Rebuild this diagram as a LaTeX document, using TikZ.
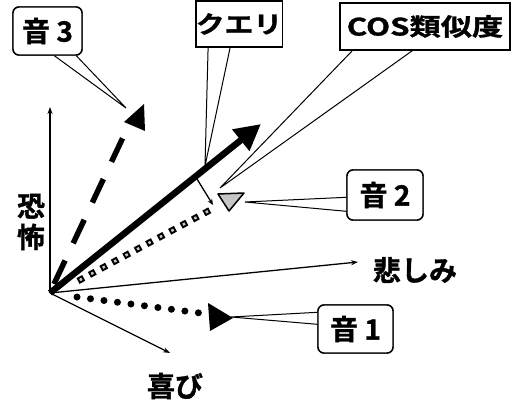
\documentclass[tikz,border=0pt]{standalone}
\usepackage{fontspec}
\setmainfont{Noto Sans CJK JP}[BoldFont={Noto Sans CJK JP Bold}, BoldFeatures={FakeBold=1.2}]
\usetikzlibrary{arrows.meta,calc}
\begin{document}
\begin{tikzpicture}[x=1pt,y=-1pt,
  lbl/.style={font=\fontsize{28}{31}\selectfont\bfseries, inner sep=0pt},
  boxtext/.style={font=\fontsize{28}{30}\selectfont\bfseries},
  axis/.style={line width=1.3pt,-{Stealth[length=7pt,width=5pt]}},
  callbox/.style={draw=black, line width=1.4pt, fill=white, rounded corners=6pt, inner sep=0pt},
  sqbox/.style={draw=black, line width=1.4pt, fill=white, inner sep=0pt},
  tail/.style={draw=black, line width=1pt, fill=white, line join=miter}]
\useasboundingbox (0,0) rectangle (521,403);
\coordinate (O) at (50,293);
\coordinate (fearEnd) at (50,107);
\coordinate (sadEnd) at (358,262);
\coordinate (joyEnd) at (170,353);
\coordinate (qtip) at (261,124);
\coordinate (qfoot) at (197,179);
\coordinate (pfoot) at (213,205);
\coordinate (t3) at (126,108);
\coordinate (tq) at (205,166);
\coordinate (tc) at (220,188);
\coordinate (t2) at (245,202);
\coordinate (t1) at (231,317);

% callout boxes (nodes defined first, drawn again on top)
\node[callbox, minimum width=69pt, minimum height=48pt, boxtext] (b3) at (47.5,31) {音 3};
\node[sqbox, minimum width=82pt, minimum height=46pt] (bq) at (239,24) {\scalebox{1.2}[1]{\fontsize{24}{26}\selectfont\bfseries クエリ}};
\node[sqbox, minimum width=170pt, minimum height=47pt] (bc) at (425,26.5) {\scalebox{1.3}[1]{\fontsize{24}{26}\selectfont\bfseries COS類似度}};
\node[callbox, minimum width=76pt, minimum height=50pt, boxtext] (b2) at (385,195) {音 2};
\node[callbox, minimum width=75pt, minimum height=48pt, boxtext] (b1) at (355.5,329) {音 1};

% tails
\draw[tail] ($(b3.south west)+(42,0)$) -- (t3) -- ($(b3.south west)+(64,0)$);
\draw[tail] ($(bq.south west)+(13,0)$) -- (tq) -- ($(bq.south west)+(35,0)$);
\draw[tail] ($(bc.south west)+(13,0)$) -- (tc) -- ($(bc.south west)+(73,0)$);
\draw[tail] ($(b2.north west)+(0,28)$) -- (t2) -- ($(b2.north west)+(0,42)$);
\draw[tail] ($(b1.north west)+(0,8)$) -- (t1) -- ($(b1.north west)+(0,20)$);

% axes
\draw[axis] (O) -- (fearEnd);
\draw[axis] (O) -- (sadEnd);
\draw[axis] (O) -- (joyEnd);
\node[lbl, align=center] (lfear) at (31,222) {恐\\怖};
\node[lbl] (lsad) at (415,270) {悲しみ};
\node[lbl] (ljoy) at (175,386) {喜び};

% sound 3 : dashed
\coordinate (d3s) at (54,284);
\coordinate (d3e) at (126,131);
\draw[line width=5.5pt, dash pattern=on 26pt off 19pt] (d3s) -- (d3e);
\fill (124,122) -- (144,104) -- (145,131) -- cycle;

% sound 2 : square dots
\coordinate (d2s) at (78,281);
\coordinate (d2e) at (214,208);
\draw[line width=6.5pt, dash pattern=on 6.5pt off 6.5pt] (d2s) -- (d2e);
\draw[line width=2.5pt, gray!45, dash pattern=on 2.5pt off 10.5pt, dash phase=-2pt] (d2s) -- (d2e);
\filldraw[fill=gray!45, draw=black, line width=1.5pt, line join=round] (218,194) -- (244,193) -- (229,211) -- cycle;

% sound 1 : round dots
\coordinate (d1s) at (77,297);
\coordinate (d1e) at (200,313);
\draw[line width=7pt, line cap=round, dash pattern=on 0pt off 13.6pt] (d1s) -- (d1e);
\fill (208,303) -- (210,331) -- (233,318) -- cycle;

% query
\draw[line width=6.5pt, -{Triangle[length=26pt,width=26pt]}] (O) -- (qtip);
\draw[line width=1.3pt, -{Stealth[length=6pt,width=5pt]}] (qfoot) -- (pfoot);

% boxes on top
\node[callbox, minimum width=69pt, minimum height=48pt, boxtext] at (b3) {音 3};
\node[sqbox, minimum width=82pt, minimum height=46pt] at (bq) {\scalebox{1.2}[1]{\fontsize{24}{26}\selectfont\bfseries クエリ}};
\node[sqbox, minimum width=170pt, minimum height=47pt] at (bc) {\scalebox{1.3}[1]{\fontsize{24}{26}\selectfont\bfseries COS類似度}};
\node[callbox, minimum width=76pt, minimum height=50pt, boxtext] at (b2) {音 2};
\node[callbox, minimum width=75pt, minimum height=48pt, boxtext] at (b1) {音 1};
\end{tikzpicture}
\end{document}
